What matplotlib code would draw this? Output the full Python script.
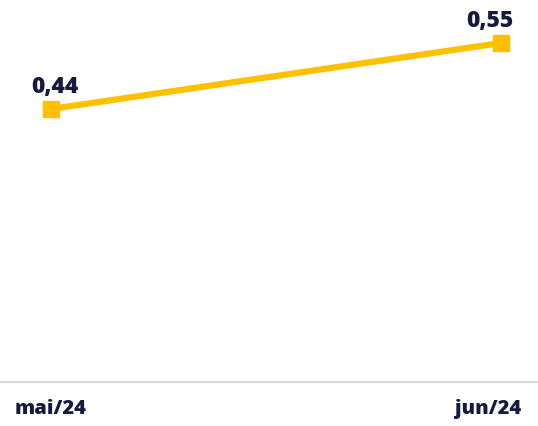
import matplotlib.pyplot as plt

months = ['mai/24', 'jun/24']
values = [0.44, 0.55]
value_labels = ['0,44', '0,55']

line_color = '#FFC000'
text_color = '#161a3d'

plt.rcParams['font.family'] = ['Open Sans', 'DejaVu Sans']

fig = plt.figure(figsize=(5.38, 4.27), dpi=100)
ax = fig.add_axes([0, 44 / 427, 1, 383 / 427])

x = list(range(len(months)))
ax.plot(x, values, color=line_color, lw=4.5, marker='s', ms=11,
        solid_capstyle='butt', zorder=3)

ax.set_xlim(-51 / 450, 1 + 37 / 450)
ax.set_ylim(0.44 - 273 / 600, 0.44 + 110 / 600)

# value labels above points
label_dx = [3, -8]
for i, (v, t) in enumerate(zip(values, value_labels)):
    ax.annotate(t, (x[i], v), xytext=(label_dx[i], 12.5), textcoords='offset points',
                ha='center', va='baseline', fontsize=16.5, fontweight='heavy',
                color=text_color)

# category labels under the baseline
tick_dx = [0, -9]
for i, m in enumerate(months):
    ax.annotate(m, (x[i], 0), xycoords=('data', 'axes fraction'),
                xytext=(tick_dx[i], -19), textcoords='offset points',
                ha='center', va='center', fontsize=14.5, fontweight='heavy',
                color=text_color, annotation_clip=False)

for s in ['top', 'right', 'left']:
    ax.spines[s].set_visible(False)
ax.spines['bottom'].set_color('#d9d9d9')
ax.spines['bottom'].set_linewidth(1.5)
ax.set_xticks([])
ax.set_yticks([])

fig.savefig('out.png', dpi=100)
